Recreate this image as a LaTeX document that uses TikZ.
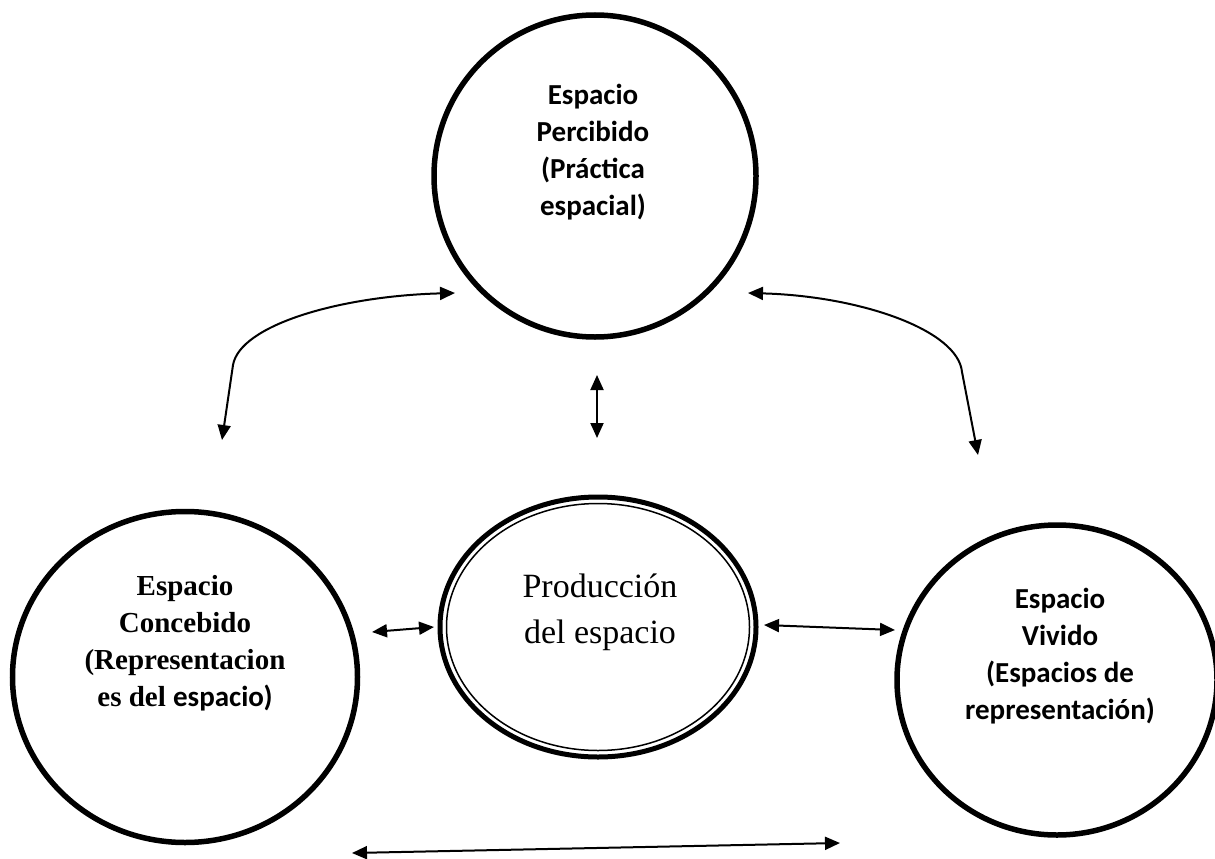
\documentclass[tikz,border=0pt]{standalone}
\usepackage{fontspec}
\setmainfont{Liberation Serif}
\newfontfamily\calibri{Carlito}
\usetikzlibrary{positioning, arrows.meta, shapes.geometric}

\begin{document}
\begin{tikzpicture}[x=1pt, y=-1pt,
        circulo/.style={draw, circle, line width=5.5pt, inner sep=0pt},
        ovalo/.style={draw, ellipse, line width=5.5pt, inner sep=0pt},
        txtsans/.style={align=center, font=\calibri\bfseries\fontsize{29}{37}\selectfont},
        txtserif/.style={align=center, font=\bfseries\fontsize{29}{37}\selectfont},
        flecha/.style={<->, line width=2pt},
        >={Triangle[length=15pt, width=13pt]}]

        \useasboundingbox (0,0) rectangle (1215,859);

        % Espacios
        \node (percibido) [circulo, minimum size=322pt] at (595,176) {};
        \node (concebido) [ovalo, minimum width=345pt, minimum height=331pt] at (185,677) {};
        \node (vivido) [ovalo, minimum width=320pt, minimum height=310pt] at (1057,680) {};
        \node (prodExt) [ovalo, line width=5pt, minimum width=316pt, minimum height=260pt] at (598,627) {};
        \node (prod) [draw, ellipse, line width=1.5pt, minimum width=303pt, minimum height=247pt] at (prodExt) {};

        % Textos
        \node (percibidoTxt) [txtsans] at (593,152) {Espacio\\Percibido\\(Práctica\\espacial)};
        \node (concebidoTxt) [txtserif] at (185,643) {Espacio\\Concebido\\(Representacion\\es del {\calibri espacio)}};
        \node (vividoTxt) [txtsans] at (1060,656) {Espacio\\Vivido\\(Espacios de\\representación)};
        \node (prodTxt) [align=center, font=\fontsize{34}{46}\selectfont] at (600,612) {Producción\\del espacio};

        % Extremos de las flechas
        \coordinate (iz1) at (455,293);
        \coordinate (iz2) at (222,440);
        \coordinate (de1) at (748,293);
        \coordinate (de2) at (978,455);
        \coordinate (ce1) at (597,375);
        \coordinate (ce2) at (597,438);
        \coordinate (hi1) at (372,632);
        \coordinate (hi2) at (434,627);
        \coordinate (hd1) at (764,625);
        \coordinate (hd2) at (895,630);
        \coordinate (ab1) at (352,853);
        \coordinate (ab2) at (840,843);

        % Flechas
        \draw[flecha] (iz1) .. controls (340,296) and (240,325) .. (233,365) -- (iz2);
        \draw[flecha] (de1) .. controls (860,296) and (958,330) .. (962,372) -- (de2);
        \draw[flecha] (ce1) -- (ce2);
        \draw[flecha] (hi1) -- (hi2);
        \draw[flecha] (hd1) -- (hd2);
        \draw[flecha] (ab1) -- (ab2);
\end{tikzpicture}
\end{document}
